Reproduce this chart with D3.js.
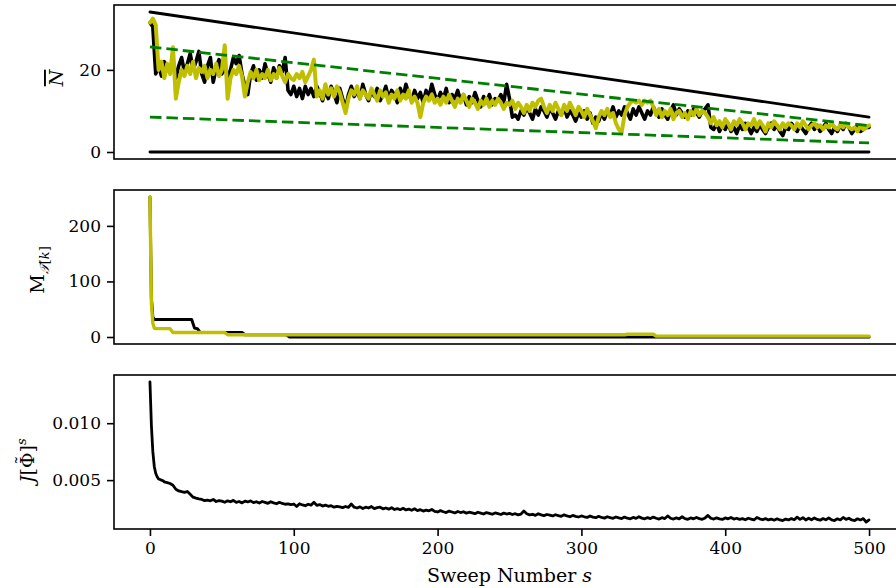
<!DOCTYPE html>
<html>
<head>
<meta charset="utf-8">
<script src="https://cdn.jsdelivr.net/npm/d3@7"></script>
<style>
  html, body { margin: 0; padding: 0; background: #fff; }
  svg { display: block; }
  text { font-family: "DejaVu Serif", serif; fill: #000; }
</style>
</head>
<body>
<svg id="chart" width="896" height="588"></svg>
<script>
// ---- data -------------------------------------------------------------
// sweep indices for the occupation traces (every second sweep)
const nSweeps = d3.range(0, 501, 2);

// mean occupation N̄ per sweep, first run (black)
const nBlack = [
  31.5, 30.5, 19, 21, 18.5, 22, 20, 19.5, 22.5, 18,
  21, 23, 19.5, 21.5, 24, 20, 22, 24.5, 19, 17,
  21, 23, 17, 20.5, 22.5, 19, 21, 18, 20, 23,
  21.5, 23.5, 19, 16, 14, 19, 21, 17.5, 20, 18,
  21.5, 19, 17, 20.5, 18, 21, 19.5, 23, 15, 14,
  16, 13.5, 15.5, 13, 16, 14, 15.5, 13.5, 16, 14.5,
  12.5, 15, 13, 16, 14, 12, 15.5, 13, 10.5, 14,
  16, 13.5, 15, 13, 16.5, 14, 12.5, 15, 13.5, 15.5,
  12.5, 14, 16, 13, 15, 14, 12, 15.5, 13.5, 16.5,
  14, 12.5, 15, 13, 14.5, 12, 15, 13.5, 16.5, 14,
  12.5, 14.5, 13, 15.5, 12, 14, 13, 15, 12.5, 14,
  11.5, 13.5, 12, 14.5, 12.5, 11, 13.5, 12, 14, 11.5,
  13, 12.5, 14, 12, 16.5, 13, 8.5, 9, 8, 10,
  9, 11, 9.5, 8, 10.5, 9, 11, 10, 8.5, 10.5,
  9.5, 8, 10, 9, 11, 8.5, 10, 9, 7.5, 9.5,
  8.5, 10, 8, 9.5, 7, 8.5, 7.5, 9.5, 8, 10,
  9, 11, 8.5, 10, 9, 11, 9.5, 8, 10.5, 9,
  11, 9.5, 8, 10, 9, 11, 9.5, 8.5, 10.5, 9,
  8, 10, 11.5, 9, 10.5, 9.5, 8.5, 10, 9, 10.5,
  9.5, 8.5, 10, 10.5, 11.5, 6, 5.5, 7, 5, 6.5,
  5.5, 7, 5, 6, 4.5, 6.5, 5.5, 7, 6, 4.5,
  6, 5, 6.5, 5.5, 4.5, 6, 7, 5.5, 6.5, 5,
  4, 6, 5.5, 7, 6, 5, 6.5, 5.5, 4.5, 6,
  7, 5.5, 6.5, 5, 6, 7, 5.5, 4.5, 6, 5,
  6.5, 5.5, 7, 6, 4.5, 5.5, 6.5, 5, 5.5, 6,
  6
];

// mean occupation N̄ per sweep, second run (yellow)
const nYellow = [
  31.5, 32.5, 31, 20, 22, 18, 21.5, 19, 25.5, 13,
  17, 20, 18.5, 21, 19, 22, 18, 20.5, 19.5, 21,
  18, 20, 19, 21.5, 18.5, 20, 26, 13, 18, 20,
  19, 21, 18.5, 13.5, 17, 19.5, 18, 20, 17.5, 19,
  18, 20, 17.5, 19, 18, 20.5, 18.5, 17, 19, 18,
  17.5, 19, 18, 19.5, 17, 18.5, 20, 22.5, 13.5, 15,
  13, 16.5, 14, 15.5, 13.5, 16, 14.5, 12, 9.5, 13,
  15, 14, 16, 13, 15, 14, 13, 15.5, 14, 12.5,
  15, 13.5, 14.5, 12, 14, 13, 15, 12.5, 14, 13,
  15, 12, 13.5, 12, 8.5, 12, 13.5, 12.5, 14, 12,
  13, 11.5, 13.5, 12, 14, 12.5, 11, 13, 12, 14,
  12.5, 11, 13, 12, 10.5, 12.5, 11.5, 13, 11, 12.5,
  11.5, 13, 12, 10.5, 12, 11.5, 12.5, 10.5, 12, 11,
  9.5, 11.5, 10, 12, 11, 12.5, 13, 11, 9.5, 11.5,
  10, 12, 10.5, 9, 11.5, 10, 12, 10.5, 9, 11,
  10, 8.5, 10.5, 9, 7.5, 5.8, 8.5, 10, 9, 10.5,
  8.5, 9.5, 7, 5.5, 4.8, 9, 11, 12, 12.5, 12,
  12.5, 11.5, 12.5, 12, 12.5, 11, 9, 10.5, 8.5, 10,
  9, 10.5, 8, 9.5, 10, 8.5, 9.5, 8, 10, 9,
  10.5, 9, 10, 9.5, 8.5, 7, 8.5, 6.5, 7.5, 6,
  8, 7, 5.5, 7.5, 6.5, 8, 7, 5.5, 7, 6.5,
  8, 6, 7.5, 6.5, 5, 7, 6, 7.5, 6.5, 5.5,
  7, 6, 7, 6.5, 5.5, 7, 6, 7.5, 6.5, 5.5,
  6.5, 7, 6, 6.5, 5.5, 6.5, 6, 7, 6, 5.5,
  6.5, 6, 7, 6, 5.5, 6, 5, 6.5, 5.5, 6,
  6.5
];

// straight reference lines: values at sweep 0 and sweep 500
const boundSweeps = [0, 500];
const upperBound = [34.1, 8.5];
const lowerBound = [0, 0];
const bandUpper = [25.6, 6.4];
const bandLower = [8.5, 2.2];

// bond dimension M_T[k]: sweeps where the value changes, and the values
const mBlackSweeps = [0, 1, 2, 3, 29, 31, 33, 35, 64, 66, 95, 97, 500];
const mBlack = [252, 70, 36, 31.5, 31.5, 16, 15, 8, 8, 4, 4, 0, 0];
const mYellowSweeps = [0, 1, 2, 3, 4, 14, 16, 52, 54, 330, 332, 350, 352, 500];
const mYellow = [252, 60, 25, 16, 15, 15, 8, 8, 4, 4, 5, 5, 1.5, 1.5];

// cost J[Φ̃] per sweep: every sweep up to 9, then every second sweep
const jSweeps = d3.range(0, 10).concat(d3.range(10, 501, 2));
const jCost = [
  0.01362, 0.0098, 0.0075, 0.0062, 0.0056, 0.0053, 0.0051, 0.00505, 0.0050, 0.00495,
  0.00485, 0.00478, 0.00470, 0.00455, 0.00420, 0.00405, 0.00398, 0.00392, 0.00400, 0.00375,
  0.00350, 0.00342, 0.00335, 0.00330, 0.00320, 0.00325, 0.00318, 0.00330, 0.00312, 0.00320,
  0.00315, 0.00305, 0.00318, 0.00310, 0.00322, 0.00305, 0.00312, 0.00300, 0.00315, 0.00308,
  0.00318, 0.00302, 0.00310, 0.00298, 0.00312, 0.00305, 0.00296, 0.00310, 0.00300, 0.00292,
  0.00305, 0.00295, 0.00288, 0.00292, 0.00285, 0.00290, 0.00268, 0.00292, 0.00282, 0.00275,
  0.00288, 0.00280, 0.00305, 0.00278, 0.00285, 0.00272, 0.00280, 0.00270, 0.00275, 0.00262,
  0.00270, 0.00265, 0.00258, 0.00268, 0.00260, 0.00290, 0.00262, 0.00255, 0.00265, 0.00250,
  0.00262, 0.00255, 0.00268, 0.00250, 0.00258, 0.00262, 0.00248, 0.00255, 0.00245, 0.00258,
  0.00242, 0.00250, 0.00240, 0.00252, 0.00238, 0.00245, 0.00235, 0.00248, 0.00232, 0.00240,
  0.00228, 0.00236, 0.00230, 0.00242, 0.00225, 0.00220, 0.00232, 0.00222, 0.00215, 0.00228,
  0.00220, 0.00212, 0.00224, 0.00215, 0.00222, 0.00210, 0.00218, 0.00212, 0.00205, 0.00218,
  0.00210, 0.00202, 0.00215, 0.00208, 0.00200, 0.00212, 0.00205, 0.00198, 0.00210, 0.00202,
  0.00208, 0.00198, 0.00205, 0.00195, 0.00202, 0.00228, 0.00205, 0.00195, 0.00200, 0.00190,
  0.00205, 0.00195, 0.00188, 0.00198, 0.00192, 0.00185, 0.00196, 0.00188, 0.00182, 0.00195,
  0.00185, 0.00178, 0.00190, 0.00182, 0.00176, 0.00185, 0.00178, 0.00172, 0.00185, 0.00175,
  0.00170, 0.00182, 0.00172, 0.00166, 0.00178, 0.00170, 0.00164, 0.00176, 0.00168, 0.00162,
  0.00175, 0.00165, 0.00160, 0.00172, 0.00164, 0.00178, 0.00166, 0.00160, 0.00170, 0.00162,
  0.00175, 0.00165, 0.00158, 0.00170, 0.00162, 0.00185, 0.00165, 0.00158, 0.00168, 0.00160,
  0.00178, 0.00162, 0.00156, 0.00168, 0.00160, 0.00172, 0.00162, 0.00156, 0.00168, 0.00190,
  0.00165, 0.00158, 0.00168, 0.00160, 0.00155, 0.00168, 0.00160, 0.00172, 0.00158, 0.00165,
  0.00155, 0.00162, 0.00152, 0.00165, 0.00158, 0.00150, 0.00172, 0.00160, 0.00152, 0.00162,
  0.00150, 0.00158, 0.00148, 0.00160, 0.00150, 0.00145, 0.00158, 0.00150, 0.00162, 0.00152,
  0.00175, 0.00155, 0.00170, 0.00150, 0.00165, 0.00152, 0.00168, 0.00155, 0.00148, 0.00162,
  0.00152, 0.00168, 0.00150, 0.00145, 0.00160, 0.00150, 0.00172, 0.00155, 0.00165, 0.00150,
  0.00145, 0.00160, 0.00150, 0.00162, 0.00132, 0.00150
];

// tick values
const xTicks = [0, 100, 200, 300, 400, 500];
const nTicks = [0, 20];
const mTicks = [0, 100, 200];
const jTicks = [0.005, 0.010];

// ---- layout -----------------------------------------------------------
const svg = d3.select("#chart");
const left = 114, right = 905;            // right spine sits just past the window
const panelTops = [5, 190, 375];
const panelH = 154;
const FONT = 17;        // tick labels
const LABEL = 19;       // axis labels
const SUB = 13;         // sub/superscripts

const COL_Y = "#bfbf00";
const COL_G = "#008000";

// matplotlib-style 5% margin around the data extent
function padded(values) {
  const [lo, hi] = d3.extent(values);
  const d = (hi - lo) * 0.05;
  return [lo - d, hi + d];
}

const x = d3.scaleLinear().domain(padded([0, 500])).range([left, right]);

function makeY(i, values) {
  return d3.scaleLinear().domain(padded(values))
    .range([panelTops[i] + panelH, panelTops[i]]);
}

const yN = makeY(0, [].concat(nBlack, nYellow, upperBound, lowerBound, bandUpper, bandLower));
const yM = makeY(1, [].concat(mBlack, mYellow));
const yJ = makeY(2, jCost);

function frame(i) {
  svg.append("rect")
    .attr("x", left).attr("y", panelTops[i])
    .attr("width", right - left).attr("height", panelH)
    .attr("fill", "none").attr("stroke", "#000").attr("stroke-width", 1.6);
}

function yAxis(scale, ticks, fmt) {
  const g = svg.append("g")
    .attr("transform", `translate(${left},0)`)
    .call(d3.axisLeft(scale).tickValues(ticks).tickFormat(fmt)
      .tickSizeInner(7).tickSizeOuter(0).tickPadding(6));
  g.select(".domain").remove();
  g.selectAll(".tick line").attr("stroke", "#000").attr("stroke-width", 1.6);
  g.selectAll(".tick text").attr("font-family", "DejaVu Serif").attr("font-size", FONT).attr("fill", "#000");
  return g;
}

function trace(sx, sy, yScale, color, width, dash) {
  const line = d3.line().x((d, i) => x(sx[i])).y(d => yScale(d));
  const p = svg.append("path")
    .datum(sy)
    .attr("d", line)
    .attr("fill", "none")
    .attr("stroke", color)
    .attr("stroke-width", width)
    .attr("stroke-linejoin", "round")
    .attr("stroke-linecap", dash ? "butt" : "round");
  if (dash) p.attr("stroke-dasharray", dash);
  return p;
}

// ---- panel 1: mean occupation -----------------------------------------
frame(0);
yAxis(yN, nTicks, d3.format("d"));
trace(boundSweeps, upperBound, yN, "#000", 2.8);
trace(boundSweeps, lowerBound, yN, "#000", 2.8);
trace(nSweeps, nBlack, yN, "#000", 3.6);
trace(nSweeps, nYellow, yN, COL_Y, 4);
trace(boundSweeps, bandUpper, yN, COL_G, 2.8, "11.5,5");
trace(boundSweeps, bandLower, yN, COL_G, 2.8, "11.5,5");

// ---- panel 2: bond dimension ------------------------------------------
frame(1);
yAxis(yM, mTicks, d3.format("d"));
trace(mBlackSweeps, mBlack, yM, "#000", 3);
trace(mYellowSweeps, mYellow, yM, COL_Y, 3.4);

// ---- panel 3: cost ----------------------------------------------------
frame(2);
yAxis(yJ, jTicks, d3.format(".3f"));
trace(jSweeps, jCost, yJ, "#000", 2.8);

// x axis on the bottom panel only
const gx = svg.append("g")
  .attr("transform", `translate(0,${panelTops[2] + panelH})`)
  .call(d3.axisBottom(x).tickValues(xTicks).tickFormat(d3.format("d"))
    .tickSizeInner(7).tickSizeOuter(0).tickPadding(6));
gx.select(".domain").remove();
gx.selectAll(".tick line").attr("stroke", "#000").attr("stroke-width", 1.6);
gx.selectAll(".tick text").attr("font-family", "DejaVu Serif").attr("font-size", FONT).attr("fill", "#000");

// ---- axis labels ------------------------------------------------------
const xl = svg.append("text")
  .attr("x", (x(0) + x(500)) / 2).attr("y", 582)
  .attr("text-anchor", "middle").attr("font-size", LABEL);
xl.append("tspan").text("Sweep Number ");
xl.append("tspan").attr("font-style", "italic").text("s");

// N̄
const l1 = svg.append("text")
  .attr("transform", "translate(63,78) rotate(-90)")
  .attr("text-anchor", "middle").attr("font-size", LABEL);
l1.append("tspan").attr("font-style", "italic")
  .attr("text-decoration", "overline").text("N");

// M_{𝒯[k]}
const l2 = svg.append("text")
  .attr("transform", "translate(44,270) rotate(-90)")
  .attr("text-anchor", "middle").attr("font-size", LABEL);
l2.append("tspan").text("M");
l2.append("tspan").attr("dy", 5).attr("font-size", SUB).attr("font-style", "italic").text("𝒯");
l2.append("tspan").attr("font-size", SUB).text("[");
l2.append("tspan").attr("font-size", SUB).attr("font-style", "italic").text("k");
l2.append("tspan").attr("font-size", SUB).text("]");

// J[Φ̃]^s — the tilde is set as its own glyph centred over Φ
const l3 = svg.append("text")
  .attr("transform", "translate(34,456) rotate(-90)")
  .attr("font-size", LABEL);
l3.append("tspan").attr("font-style", "italic").text("J");
l3.append("tspan").text("[");
const phi = l3.append("tspan").text("Φ");
const tilde = l3.append("tspan").text("\u02DC");
const close = l3.append("tspan").text("]");
l3.append("tspan").attr("dy", -8).attr("font-size", SUB).attr("font-style", "italic").text("s");
{
  const wPhi = phi.node().getComputedTextLength();
  const wTil = tilde.node().getComputedTextLength();
  tilde.attr("dx", -(wPhi + wTil) / 2).attr("dy", -5);
  close.attr("dx", (wPhi - wTil) / 2).attr("dy", 5);
  // centre the whole label on its panel
  const len = l3.node().getComputedTextLength();
  l3.attr("x", -len / 2);
}
</script>
</body>
</html>
